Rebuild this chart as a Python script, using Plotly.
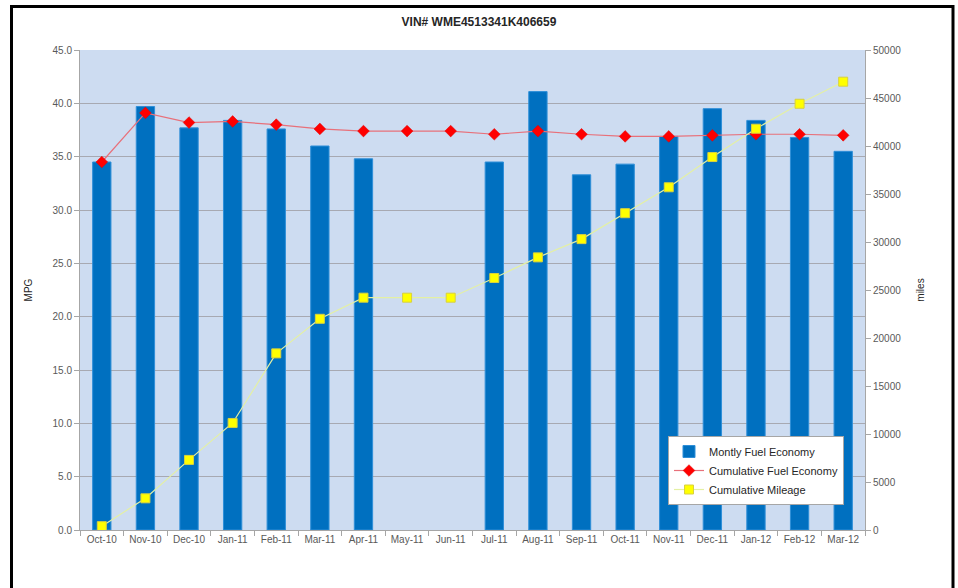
import plotly.graph_objects as go

months = ["Oct-10", "Nov-10", "Dec-10", "Jan-11", "Feb-11", "Mar-11", "Apr-11", "May-11", "Jun-11",
          "Jul-11", "Aug-11", "Sep-11", "Oct-11", "Nov-11", "Dec-11", "Jan-12", "Feb-12", "Mar-12"]
monthly_mpg = [34.5, 39.7, 37.7, 38.4, 37.6, 36.0, 34.8, None, None,
               34.5, 41.1, 33.3, 34.3, 36.9, 39.5, 38.4, 36.8, 35.5]
cumulative_mpg = [34.5, 39.1, 38.2, 38.3, 38.0, 37.6, 37.4, 37.4, 37.4,
                  37.1, 37.4, 37.1, 36.9, 36.9, 37.0, 37.1, 37.1, 37.0]
cumulative_miles = [400, 3300, 7300, 11150, 18400, 22000, 24200, 24200, 24200,
                    26250, 28400, 30300, 33000, 35700, 38850, 41800, 44400, 46700]

font_family = "Liberation Sans, Arial, sans-serif"
tick_color = "#595959"

fig = go.Figure()
fig.add_trace(go.Bar(
    x=months, y=monthly_mpg, name="Montly Fuel Economy",
    marker=dict(color="#0070c0", line=dict(color="#2f8fd8", width=1)),
    width=0.42, yaxis="y",
))
fig.add_trace(go.Scatter(
    x=months, y=cumulative_mpg, name="Cumulative Fuel Economy", mode="lines+markers",
    line=dict(color="#e8707a", width=1.2),
    marker=dict(symbol="diamond", color="#ff0000", size=9, line=dict(color="#e00000", width=0.5)),
    yaxis="y",
))
fig.add_trace(go.Scatter(
    x=months, y=cumulative_miles, name="Cumulative Mileage", mode="lines+markers",
    line=dict(color="#e4f0a4", width=1.2),
    marker=dict(symbol="square", color="#ffff00", size=9, line=dict(color="#d8d040", width=1)),
    yaxis="y2",
))

# black frame around the whole chart (paper coordinates relative to plot area)
L, R, T, B = 80, 93, 50, 58
W, H = 958 - L - R, 588 - T - B
def px_x(p):
    return (p - L) / W
def px_y(p):
    return (588 - B - p) / H

fig.add_shape(type="rect", xref="paper", yref="paper",
              x0=px_x(11.5), x1=px_x(953), y0=px_y(610), y1=px_y(6.5),
              line=dict(color="black", width=3), fillcolor="rgba(0,0,0,0)", layer="below")

fig.update_layout(
    width=958, height=588,
    margin=dict(l=L, r=R, t=T, b=B, autoexpand=False),
    paper_bgcolor="white",
    plot_bgcolor="#cddcf1",
    title=dict(text="<b>VIN# WME4513341K406659</b>", x=0.5, xanchor="center", y=1 - 22 / 588,
               yanchor="middle", font=dict(family=font_family, size=12, color="#262626")),
    font=dict(family=font_family, size=10, color=tick_color),
    xaxis=dict(
        type="category", showgrid=False, showline=True, linecolor="#a6a6a6", linewidth=1,
        ticks="outside", tickson="boundaries", ticklen=5, tickcolor="#a6a6a6",
        tickfont=dict(size=10, color=tick_color), tickangle=0, automargin=False,
        range=[-0.5, 17.5],
    ),
    yaxis=dict(
        range=[0, 45], dtick=5, tickformat=".1f", showgrid=True, gridcolor="#a7a9b2", gridwidth=1,
        showline=True, linecolor="#a6a6a6", ticks="outside", ticklen=5, tickcolor="#a6a6a6",
        title=dict(text="MPG", font=dict(size=10, color="#262626"), standoff=18),
        zeroline=False, automargin=False,
    ),
    yaxis2=dict(
        range=[0, 50000], dtick=5000, tickformat="d", overlaying="y", side="right", showgrid=False,
        showline=True, linecolor="#a6a6a6", ticks="outside", ticklen=5, tickcolor="#a6a6a6",
        title=dict(text="miles", font=dict(size=10, color="#262626"), standoff=16),
        zeroline=False, automargin=False,
    ),
    legend=dict(
        x=px_x(668), y=px_y(436), xanchor="left", yanchor="top",
        bgcolor="white", bordercolor="#a6a6a6", borderwidth=1,
        font=dict(size=11, color="#262626"), tracegroupgap=2, itemwidth=30,
    ),
    showlegend=True,
)

fig.write_html("out.html", config={"displayModeBar": False},
               post_script="document.body.style.margin='0';")
